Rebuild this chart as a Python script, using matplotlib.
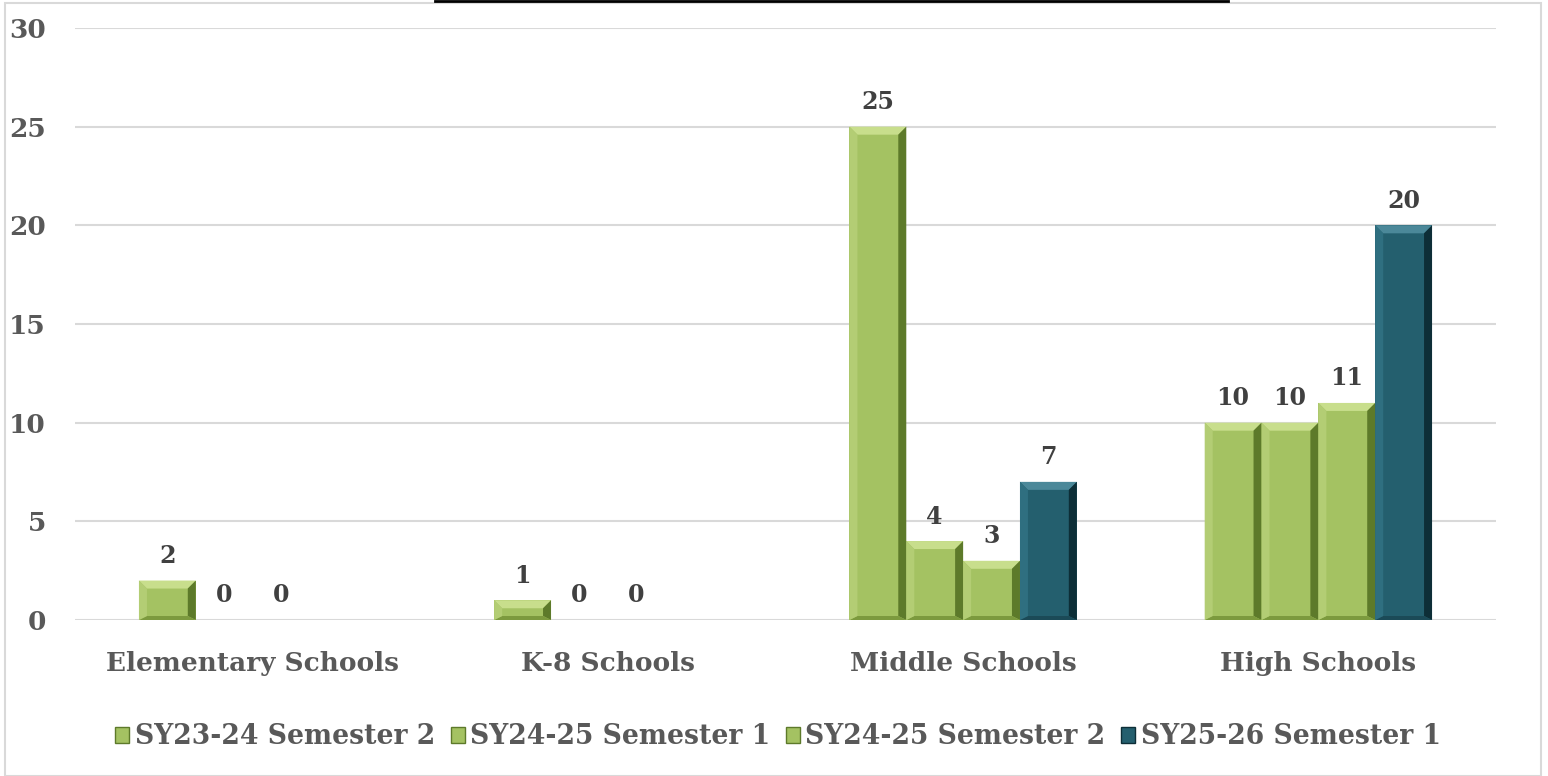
import numpy as np
import matplotlib.pyplot as plt
from matplotlib.patches import Polygon, Patch, Rectangle
from matplotlib.lines import Line2D

# ==========================================================
# Data
# ==========================================================

categories = ["Elementary Schools", "K-8 Schools", "Middle Schools", "High Schools"]
series_names = ["SY23-24 Semester 2", "SY24-25 Semester 1",
                "SY24-25 Semester 2", "SY25-26 Semester 1"]
sy2324_s2 = [2, 1, 25, 10]
sy2425_s1 = [0, 0, 4, 10]
sy2425_s2 = [0, 0, 3, 11]
sy2526_s1 = [np.nan, np.nan, 7, 20]
series_values = [sy2324_s2, sy2425_s1, sy2425_s2, sy2526_s1]

# ==========================================================
# Style
# ==========================================================

green = dict(face="#a4c262", top="#c8de8c", left="#b3cd74", right="#5d7a2a", bottom="#7c9a3e")
teal = dict(face="#245f6e", top="#4b8899", left="#2f6f80", right="#0d2e37", bottom="#1b4a57")
styles = [green, green, green, teal]

serif = ["DejaVu Serif"]
tick_col = "#595959"
label_col = "#404040"

fig = plt.figure(figsize=(15.48, 7.76), dpi=100)
ax = fig.add_axes([75 / 1548, 1 - 620 / 776, 1421 / 1548, 592 / 776])

x = np.arange(len(categories))
width = 0.16
ax.set_xlim(-0.5, len(categories) - 0.5)
ax.set_ylim(0, 30)

# px -> data scale
px_x = (ax.transData.transform((1, 0))[0] - ax.transData.transform((0, 0))[0])
px_y = (ax.transData.transform((0, 1))[1] - ax.transData.transform((0, 0))[1])
bevel_px = 8

for i, (vals, st) in enumerate(zip(series_values, styles)):
    offs = x + (i - 1.5) * width
    bars = ax.bar(offs, vals, width, color=st["face"], linewidth=0, zorder=3)
    for b, v in zip(bars, vals):
        if np.isnan(v):
            continue
        if v > 0:
            x0, x1 = b.get_x(), b.get_x() + b.get_width()
            y0, y1 = 0, b.get_height()
            bp = min(bevel_px, v * px_y / 2.2)
            dx, dy = bp / px_x, bp / px_y
            dyb = dy * 0.5
            polys = [
                ([(x0, y1), (x1, y1), (x1 - dx, y1 - dy), (x0 + dx, y1 - dy)], st["top"]),
                ([(x1, y1), (x1, y0), (x1 - dx, y0 + dyb), (x1 - dx, y1 - dy)], st["right"]),
                ([(x0, y0), (x1, y0), (x1 - dx, y0 + dyb), (x0 + dx, y0 + dyb)], st["bottom"]),
                ([(x0, y0), (x0, y1), (x0 + dx, y1 - dy), (x0 + dx, y0 + dyb)], st["left"]),
            ]
            for pts, c in polys:
                ax.add_patch(Polygon(pts, closed=True, facecolor=c, edgecolor="none", zorder=4))
        ax.annotate(f"{int(v)}", (b.get_x() + b.get_width() / 2, v),
                    xytext=(0, 9), textcoords="offset points",
                    ha="center", va="bottom", fontsize=17, fontweight="bold",
                    color=label_col, family=serif, zorder=5)

# ==========================================================
# Axes styling
# ==========================================================

ax.set_yticks(np.arange(0, 31, 5))
ax.yaxis.grid(True, color="#d9d9d9", linewidth=1.5, zorder=0)
ax.set_axisbelow(True)
for s in ax.spines.values():
    s.set_visible(False)
ax.tick_params(axis="y", length=0, pad=21, labelsize=19, labelcolor=tick_col)
ax.tick_params(axis="x", length=0, pad=22, labelsize=19, labelcolor=tick_col)
ax.set_xticks(x)
ax.set_xticklabels(categories)
for lab in ax.get_xticklabels() + ax.get_yticklabels():
    lab.set_fontweight("bold")
    lab.set_family(serif)

handles = [Patch(facecolor=st["face"], edgecolor=st["right"], linewidth=1) for st in styles]
leg = fig.legend(handles, series_names, loc="center", bbox_to_anchor=(778 / 1548, 1 - 737 / 776),
                 ncol=4, frameon=False, handlelength=0.52, handleheight=0.52,
                 handletextpad=0.2, columnspacing=0.6,
                 prop=dict(family=serif, weight="bold", size=19.2))
for t in leg.get_texts():
    t.set_color(tick_col)

# outer chart border and title box edge
fig.patches.append(Rectangle((5 / 1548, 0), 1536 / 1548, 1 - 3 / 776, transform=fig.transFigure,
                             fill=False, edgecolor="#d9d9d9", linewidth=1.5))
fig.lines.append(Line2D([435 / 1548, 1228 / 1548], [1 - 1 / 776, 1 - 1 / 776],
                        transform=fig.transFigure, color="black", linewidth=2))

fig.savefig("out.png", dpi=100)
